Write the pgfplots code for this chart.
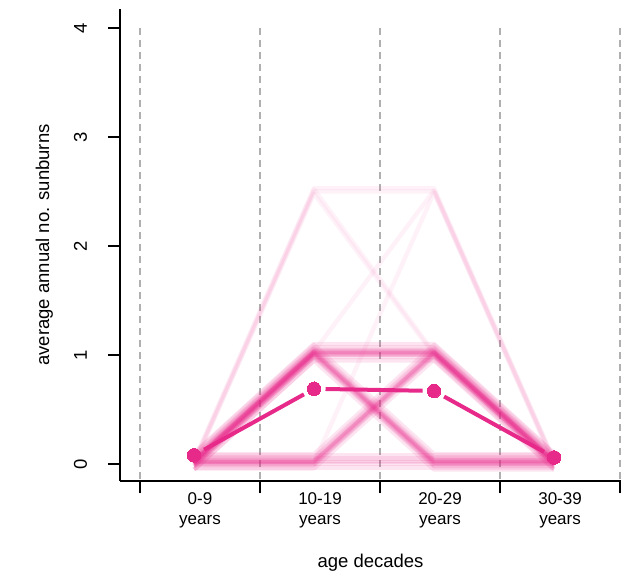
\documentclass[border=0pt]{standalone}
\usepackage{pgfplots}
\pgfplotsset{compat=1.18}
\usepackage{fontspec}
\setmainfont{Liberation Sans}
\definecolor{pk}{HTML}{E7298A}
\definecolor{gridgray}{HTML}{B0B0B0}
\begin{document}
\begin{tikzpicture}
\begin{axis}[
  scale only axis, width=501bp, height=472bp,
  xmin=-0.1667, xmax=4.008, ymin=-0.156, ymax=4.174,
  axis x line*=bottom, axis y line*=left,
  axis line style={line width=2bp, black},
  tick align=outside, major tick length=12bp,
  tick style={line width=2bp, black},
  xtick={0,1,2,3,4}, xticklabels={},
  extra x ticks={0.5,1.5,2.5,3.5},
  extra x tick labels={0-9\\years,10-19\\years,20-29\\years,30-39\\years},
  extra x tick style={major tick length=0pt, xticklabel style={align=center, font=\fontsize{17bp}{20bp}\selectfont, anchor=north, inner sep=0pt, yshift=-11bp}},
  ytick={0,1,2,3,4},
  yticklabel style={xshift=-21bp, rotate=90, anchor=base, inner sep=0pt, font=\fontsize{18.5bp}{22bp}\selectfont},
  /pgf/number format/assume math mode=true,
  clip=false,
  sp/.style={pk, line width=4.5bp, opacity=0.12, line join=round, forget plot},
  se/.style={pk, line width=4.5bp, opacity=0.06, line join=round, forget plot},
  gl/.style={gridgray, line width=1.5bp, dash pattern=on 7bp off 5bp, forget plot},
]
% dashed vertical lines
\addplot[gl] coordinates {(0,4) (0,-0.156)};
\addplot[gl] coordinates {(1,4) (1,-0.156)};
\addplot[gl] coordinates {(2,4) (2,-0.156)};
\addplot[gl] coordinates {(3,4) (3,-0.156)};
\addplot[gl] coordinates {(4,4) (4,-0.156)};
% A: 0,1,1,0
\addplot[sp] coordinates {(0.45,-0.05)(1.45,0.95)(2.45,0.95)(3.45,-0.05)};
\addplot[sp] coordinates {(0.45,-0.02)(1.45,0.98)(2.45,0.98)(3.45,-0.02)};
\addplot[sp] coordinates {(0.45,0.00)(1.45,1.00)(2.45,1.00)(3.45,0.00)};
\addplot[sp] coordinates {(0.45,0.00)(1.45,1.00)(2.45,1.00)(3.45,0.00)};
\addplot[sp] coordinates {(0.45,0.01)(1.45,1.01)(2.45,1.01)(3.45,0.01)};
\addplot[sp] coordinates {(0.45,0.02)(1.45,1.02)(2.45,1.02)(3.45,0.02)};
\addplot[sp] coordinates {(0.45,0.02)(1.45,1.02)(2.45,1.02)(3.45,0.02)};
\addplot[sp] coordinates {(0.45,0.03)(1.45,1.03)(2.45,1.03)(3.45,0.03)};
\addplot[sp] coordinates {(0.45,0.03)(1.45,1.03)(2.45,1.03)(3.45,0.03)};
\addplot[sp] coordinates {(0.45,0.04)(1.45,1.04)(2.45,1.04)(3.45,0.04)};
\addplot[sp] coordinates {(0.45,0.05)(1.45,1.05)(2.45,1.05)(3.45,0.05)};
\addplot[sp] coordinates {(0.45,0.07)(1.45,1.07)(2.45,1.07)(3.45,0.07)};
\addplot[sp] coordinates {(0.45,0.10)(1.45,1.10)(2.45,1.10)(3.45,0.10)};
% B: 0,1,0,0
\addplot[sp] coordinates {(0.45,-0.05)(1.45,0.95)(2.45,-0.05)(3.45,-0.05)};
\addplot[sp] coordinates {(0.45,-0.02)(1.45,0.98)(2.45,-0.02)(3.45,-0.02)};
\addplot[sp] coordinates {(0.45,-0.01)(1.45,0.99)(2.45,-0.01)(3.45,-0.01)};
\addplot[sp] coordinates {(0.45,0.00)(1.45,1.00)(2.45,0.00)(3.45,0.00)};
\addplot[sp] coordinates {(0.45,0.01)(1.45,1.01)(2.45,0.01)(3.45,0.01)};
\addplot[sp] coordinates {(0.45,0.01)(1.45,1.01)(2.45,0.01)(3.45,0.01)};
\addplot[sp] coordinates {(0.45,0.02)(1.45,1.02)(2.45,0.02)(3.45,0.02)};
\addplot[sp] coordinates {(0.45,0.03)(1.45,1.03)(2.45,0.03)(3.45,0.03)};
\addplot[sp] coordinates {(0.45,0.03)(1.45,1.03)(2.45,0.03)(3.45,0.03)};
\addplot[sp] coordinates {(0.45,0.04)(1.45,1.04)(2.45,0.04)(3.45,0.04)};
\addplot[sp] coordinates {(0.45,0.06)(1.45,1.06)(2.45,0.06)(3.45,0.06)};
\addplot[sp] coordinates {(0.45,0.09)(1.45,1.09)(2.45,0.09)(3.45,0.09)};
% C: 0,0,1,0
\addplot[sp] coordinates {(0.45,-0.04)(1.45,-0.04)(2.45,0.96)(3.45,-0.04)};
\addplot[sp] coordinates {(0.45,-0.01)(1.45,-0.01)(2.45,0.99)(3.45,-0.01)};
\addplot[sp] coordinates {(0.45,0.00)(1.45,0.00)(2.45,1.00)(3.45,0.00)};
\addplot[sp] coordinates {(0.45,0.01)(1.45,0.01)(2.45,1.01)(3.45,0.01)};
\addplot[sp] coordinates {(0.45,0.02)(1.45,0.02)(2.45,1.02)(3.45,0.02)};
\addplot[sp] coordinates {(0.45,0.02)(1.45,0.02)(2.45,1.02)(3.45,0.02)};
\addplot[sp] coordinates {(0.45,0.03)(1.45,0.03)(2.45,1.03)(3.45,0.03)};
\addplot[sp] coordinates {(0.45,0.04)(1.45,0.04)(2.45,1.04)(3.45,0.04)};
\addplot[sp] coordinates {(0.45,0.06)(1.45,0.06)(2.45,1.06)(3.45,0.06)};
\addplot[sp] coordinates {(0.45,0.09)(1.45,0.09)(2.45,1.09)(3.45,0.09)};
% D: 0,0,0,0
\addplot[sp] coordinates {(0.45,-0.03)(1.45,-0.03)(2.45,-0.03)(3.45,-0.03)};
\addplot[sp] coordinates {(0.45,0.00)(1.45,0.00)(2.45,0.00)(3.45,0.00)};
\addplot[sp] coordinates {(0.45,0.02)(1.45,0.02)(2.45,0.02)(3.45,0.02)};
\addplot[sp] coordinates {(0.45,0.03)(1.45,0.03)(2.45,0.03)(3.45,0.03)};
\addplot[sp] coordinates {(0.45,0.05)(1.45,0.05)(2.45,0.05)(3.45,0.05)};
\addplot[sp] coordinates {(0.45,0.08)(1.45,0.08)(2.45,0.08)(3.45,0.08)};
% E: rarer trajectories reaching 2.5
\addplot[se] coordinates {(0.45,0.00)(1.45,2.50)(2.45,2.50)(3.45,0.00)};
\addplot[se] coordinates {(0.45,0.03)(1.45,2.53)(2.45,2.53)(3.45,0.03)};
\addplot[se] coordinates {(0.45,0.02)(1.45,2.52)(2.45,1.02)(3.45,0.02)};
\addplot[se] coordinates {(0.45,0.00)(1.45,2.48)(2.45,1.00)(3.45,0.00)};
\addplot[se] coordinates {(0.45,0.03)(1.45,1.03)(2.45,2.51)(3.45,0.03)};
\addplot[se] coordinates {(0.45,0.01)(1.45,0.01)(2.45,2.49)(3.45,0.01)};
% mean line (type b: segments with gaps)
\addplot[pk, line width=4bp, shorten >=11.5bp, shorten <=11.5bp, forget plot] coordinates {(0.45,0.08) (1.45,0.69)};
\addplot[pk, line width=4bp, shorten >=11.5bp, shorten <=11.5bp, forget plot] coordinates {(1.45,0.69) (2.45,0.67)};
\addplot[pk, line width=4bp, shorten >=11.5bp, shorten <=11.5bp, forget plot] coordinates {(2.45,0.67) (3.45,0.06)};
\addplot[pk, only marks, mark=*, mark size=6.8bp, mark options={fill=pk, draw=pk, line width=0pt}, forget plot] coordinates {(0.45,0.08) (1.45,0.69) (2.45,0.67) (3.45,0.06)};
% axis titles
\node[rotate=90, anchor=base, font=\fontsize{18.5bp}{22bp}\selectfont] at (axis description cs:-0.1417,0.5) {average annual no. sunburns};
\node[anchor=base, font=\fontsize{18.5bp}{22bp}\selectfont] at (axis description cs:0.5,-0.1822) {age decades};
\end{axis}
\path (-120bp,-98bp) -- (516bp,481bp);
\end{tikzpicture}
\end{document}
